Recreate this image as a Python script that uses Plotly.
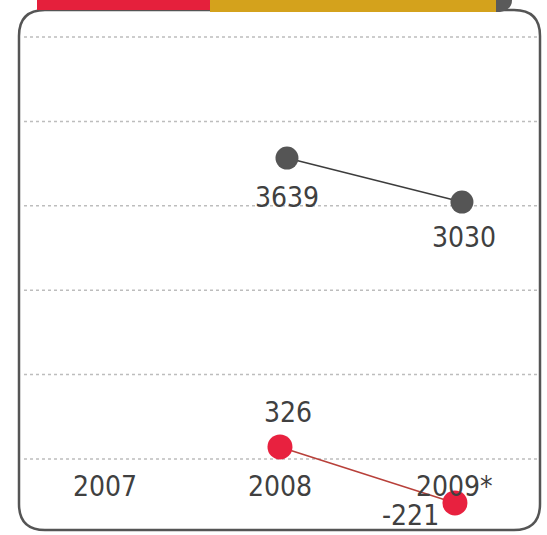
import plotly.graph_objects as go

years = ["2007", "2008", "2009*"]
gray_years = ["2008", "2009*"]
gray_values = [3639, 3030]
red_years = ["2008", "2009*"]
red_values = [326, -221]

W, H = 547, 535
FONT = "Liberation Sans Narrow, DejaVu Sans Condensed, Noto Sans, sans-serif"
TXT = "#404040"
FS = 28

def px(x):
    return x / W

def py(y):
    return 1 - y / H

def cat(yr):
    return years.index(yr)

fig = go.Figure()

fig.add_trace(go.Scatter(
    x=[cat(y) for y in gray_years], y=gray_values, xaxis="x2", yaxis="y2",
    mode="lines+markers",
    line=dict(color="#3d3d3d", width=1.5),
    marker=dict(color="#555555", size=23),
    hoverinfo="skip", showlegend=False,
))
fig.add_trace(go.Scatter(
    x=[cat(y) for y in red_years], y=red_values, xaxis="x", yaxis="y",
    mode="lines+markers",
    line=dict(color="#b8403a", width=1.5),
    marker=dict(color="#e8213f", size=25),
    hoverinfo="skip", showlegend=False,
))

annotations = []
# year labels
for yr in years:
    annotations.append(dict(x=cat(yr), y=py(486), xref="x", yref="paper",
                            xanchor="center", yanchor="middle",
                            text=yr, showarrow=False,
                            font=dict(family=FONT, size=FS, color=TXT)))
# gray value labels
g_shift = [(0, -39), (2, -35)]
for (yr, v), (dx, dy) in zip(zip(gray_years, gray_values), g_shift):
    annotations.append(dict(x=cat(yr), y=v, xref="x2", yref="y2", text=str(v),
                            xanchor="center", yanchor="middle",
                            showarrow=False, xshift=dx, yshift=dy,
                            font=dict(family=FONT, size=FS, color=TXT)))
# red value labels
r_shift = [(8, 34), (-44, -13)]
for (yr, v), (dx, dy) in zip(zip(red_years, red_values), r_shift):
    annotations.append(dict(x=cat(yr), y=v, xref="x", yref="y", text=str(v),
                            xanchor="center", yanchor="middle",
                            showarrow=False, xshift=dx, yshift=dy,
                            font=dict(family=FONT, size=FS, color=TXT)))

shapes = []
# dotted gridlines
for gy in [37, 121.4, 205.8, 290.2, 374.6, 459]:
    shapes.append(dict(type="line", xref="paper", yref="paper",
                       x0=px(24), x1=px(540), y0=py(gy), y1=py(gy),
                       line=dict(color="#bdbdbd", width=1.5, dash="dot"),
                       layer="below"))
# top strip
shapes.append(dict(type="rect", xref="paper", yref="paper",
                   x0=px(37), x1=px(212), y0=py(0), y1=py(10),
                   fillcolor="#e5203c", line=dict(width=0)))
shapes.append(dict(type="rect", xref="paper", yref="paper",
                   x0=px(210), x1=px(498), y0=py(0), y1=py(12),
                   fillcolor="#d4a21c", line=dict(width=0)))
shapes.append(dict(type="path", xref="paper", yref="paper",
                   path=f"M {px(496)},{py(0)} L {px(512)},{py(0)} Q {px(512)},{py(10)} {px(500)},{py(12)} L {px(496)},{py(12)} Z",
                   fillcolor="#5a5a5a", line=dict(width=0)))
# rounded border
L, R, T, B, r = 19, 540, 10, 530, 26
path = (f"M {px(L+r)},{py(T)} L {px(R-r)},{py(T)} "
        f"Q {px(R)},{py(T)} {px(R)},{py(T+r)} "
        f"L {px(R)},{py(B-r)} Q {px(R)},{py(B)} {px(R-r)},{py(B)} "
        f"L {px(L+r)},{py(B)} Q {px(L)},{py(B)} {px(L)},{py(B-r)} "
        f"L {px(L)},{py(T+r)} Q {px(L)},{py(T)} {px(L+r)},{py(T)} Z")
shapes.append(dict(type="path", xref="paper", yref="paper", path=path,
                   line=dict(color="#555555", width=2.5), layer="below"))

axis_common = dict(visible=False, showgrid=False, zeroline=False, fixedrange=True)
fig.update_layout(
    width=W, height=H,
    margin=dict(l=0, r=0, t=0, b=0),
    paper_bgcolor="white", plot_bgcolor="rgba(0,0,0,0)",
    xaxis=dict(range=[-0.6, 2.526], **axis_common),
    xaxis2=dict(range=[-0.64, 2.486], overlaying="x", **axis_common),
    yaxis=dict(range=[-534, 4692], **axis_common),
    yaxis2=dict(range=[-1579, 5826], overlaying="y", **axis_common),
    annotations=annotations,
    shapes=shapes,
    showlegend=False,
)

fig.write_html("out.html", config={"displayModeBar": False},
               post_script="document.body.style.margin='0';document.body.style.padding='0';")
